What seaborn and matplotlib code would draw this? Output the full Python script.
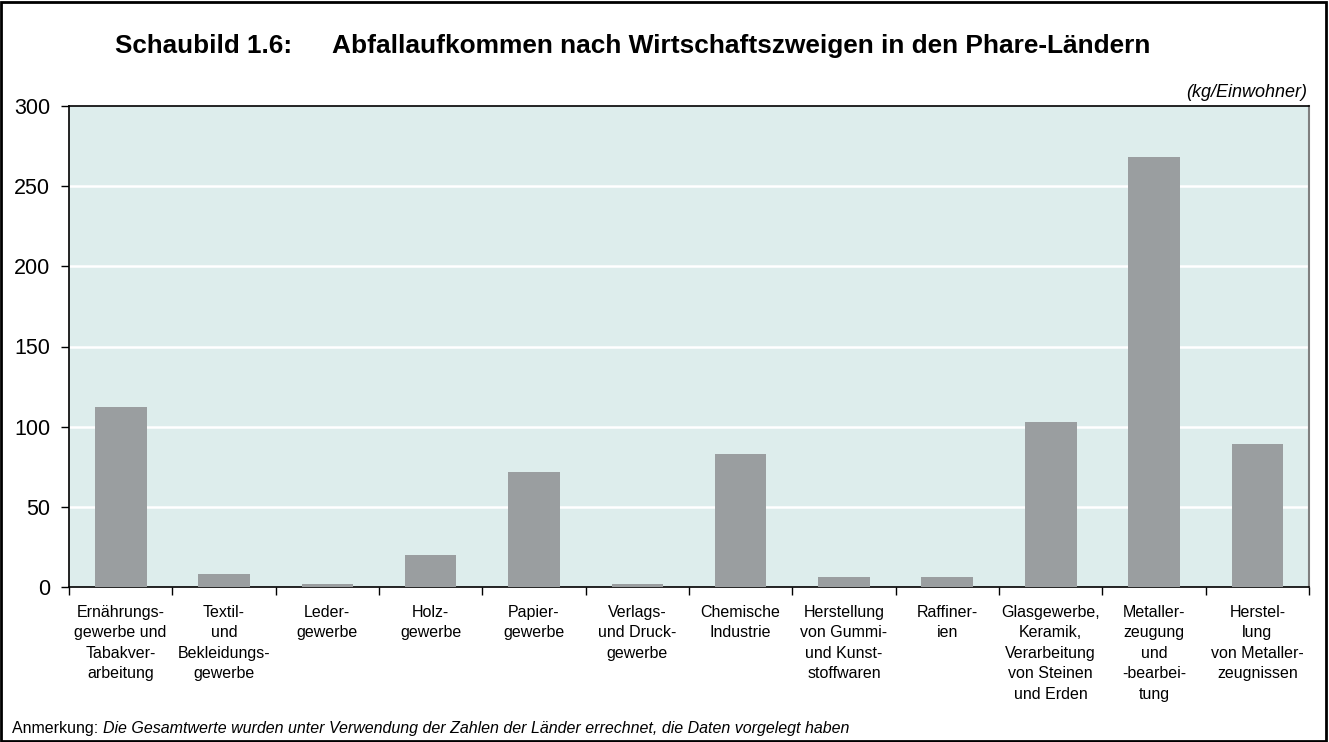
import matplotlib
matplotlib.use("Agg")
import matplotlib.pyplot as plt
import seaborn as sns
import pandas as pd
from matplotlib.ticker import FixedLocator
from matplotlib import font_manager

categories = [
    "Ernährungs-\ngewerbe und\nTabakver-\narbeitung",
    "Textil-\nund\nBekleidungs-\ngewerbe",
    "Leder-\ngewerbe",
    "Holz-\ngewerbe",
    "Papier-\ngewerbe",
    "Verlags-\nund Druck-\ngewerbe",
    "Chemische\nIndustrie",
    "Herstellung\nvon Gummi-\nund Kunst-\nstoffwaren",
    "Raffiner-\nien",
    "Glasgewerbe,\nKeramik,\nVerarbeitung\nvon Steinen\nund Erden",
    "Metaller-\nzeugung\nund\n-bearbei-\ntung",
    "Herstel-\nlung\nvon Metaller-\nzeugnissen",
]
values = [112, 8, 2, 20, 72, 2, 83, 6, 6.5, 103, 268, 89]
yticks = [0, 50, 100, 150, 200, 250, 300]

sns.set_theme(style="white")
plt.rcParams['font.family'] = ['Liberation Sans', 'DejaVu Sans']
plt.rcParams['text.color'] = 'black'
plt.rcParams['xtick.color'] = 'black'
plt.rcParams['ytick.color'] = 'black'

names = {f.name for f in font_manager.fontManager.ttflist}
if 'Liberation Sans Narrow' in names:
    xlab_family = ['Liberation Sans Narrow', 'Liberation Sans']
    xlab_size = 14
else:
    xlab_family = ['Liberation Sans', 'DejaVu Sans']
    xlab_size = 11.5

W, H = 1329, 742
fig = plt.figure(figsize=(W / 100, H / 100), dpi=100)
ax = fig.add_axes([69 / W, 1 - 587 / H, (1309 - 69) / W, (587 - 106) / H])
ax.set_facecolor("#DDEDEC")

df = pd.DataFrame({"cat": categories, "val": values})
sns.barplot(data=df, x="cat", y="val", color="#9A9EA0", width=0.5,
            saturation=1, linewidth=0, edgecolor="none", ax=ax, zorder=3)

ax.set_xlim(-0.5, len(categories) - 0.5)
ax.set_ylim(0, 300)
ax.set_yticks(yticks)
ax.set_yticklabels([str(v) for v in yticks], fontsize=15.5)
for v in yticks[1:-1]:
    ax.axhline(v, color="white", lw=1.8, zorder=1)

ax.set_xticks(range(len(categories)))
ax.set_xticklabels(categories, fontsize=xlab_size, family=xlab_family,
                   linespacing=1.45, va="top")
ax.xaxis.set_minor_locator(FixedLocator([i - 0.5 for i in range(len(categories) + 1)]))
ax.tick_params(axis="x", which="major", length=0, pad=13)
ax.tick_params(axis="x", which="minor", length=6, width=1, color="black", bottom=True)
ax.tick_params(axis="y", which="major", length=6, width=1, color="black", left=True, pad=7.5)
ax.set_xlabel("")
ax.set_ylabel("")

for s in ["left", "bottom", "top"]:
    ax.spines[s].set_color("black")
    ax.spines[s].set_linewidth(1.2)
ax.spines["right"].set_color("#7F7F7F")
ax.spines["right"].set_linewidth(1.5)

fig.text(115 / W, 1 - 53 / H, "Schaubild 1.6:", ha="left", va="baseline",
         fontsize=18.7, fontweight="bold")
fig.text(332 / W, 1 - 53 / H, "Abfallaufkommen nach Wirtschaftszweigen in den Phare-Ländern",
         ha="left", va="baseline", fontsize=18.95, fontweight="bold")
fig.text(1307 / W, 1 - 97 / H, "(kg/Einwohner)", ha="right", va="baseline",
         fontsize=13, style="italic")
t1 = fig.text(12 / W, 1 - 733 / H, "Anmerkung: ", ha="left", va="baseline", fontsize=11.5)
ax.annotate("Die Gesamtwerte wurden unter Verwendung der Zahlen der Länder errechnet, die Daten vorgelegt haben",
            xy=(1, 0), xycoords=t1, ha="left", va="bottom", fontsize=11.5, style="italic",
            annotation_clip=False)

border = plt.Rectangle((0.001, 0.002), 0.997, 0.995, transform=fig.transFigure,
                       fill=False, edgecolor="black", lw=2)
fig.patches.append(border)

fig.savefig("out.png", dpi=100)
